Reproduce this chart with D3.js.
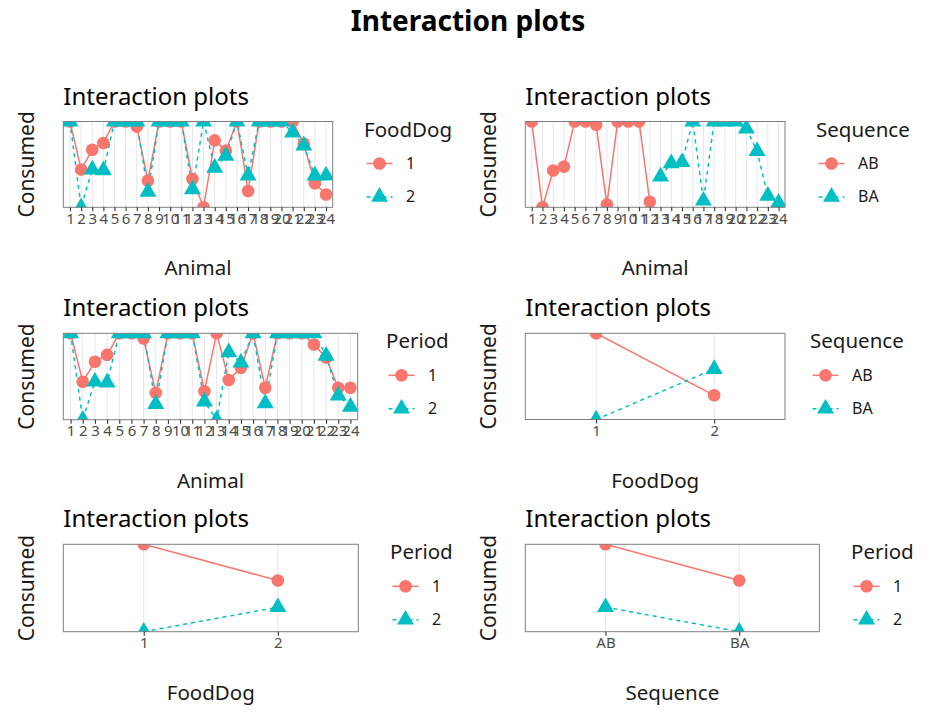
<!DOCTYPE html>
<html>
<head>
<meta charset="utf-8">
<script src="https://cdn.jsdelivr.net/npm/d3@7"></script>
<style>
  body { margin: 0; background: #fff; }
  svg text { font-family: "Noto Sans", "Open Sans", sans-serif; }
</style>
</head>
<body>
<div id="chart"></div>
<script>
// crossover study: 24 animals, two periods, sequence AB or BA
const animals = ["1","2","3","4","5","6","7","8","9","10","11","12",
                 "13","14","15","16","17","18","19","20","21","22","23","24"];
const sequenceOf = ["AB","AB","AB","AB","AB","AB","AB","AB","AB","AB","AB","AB",
                    "BA","BA","BA","BA","BA","BA","BA","BA","BA","BA","BA","BA"];
const consumedPeriod1 = [100,44,67,75,100,100,94,31,100,100,100,33,
                         100,46,60,100,37,100,100,100,87,72,37,37];
const consumedPeriod2 = [100,0,44,43,100,100,100,18,100,100,100,21,
                         0,78,66,100,19,100,100,100,100,74,28,15];

const foodLevels = ["1","2"];
const periodLevels = ["1","2"];
const sequenceLevels = ["AB","BA"];
// food given in period 1 / period 2 for each sequence
const foodBySequence = { AB: ["1","2"], BA: ["2","1"] };

const seriesColors = ["#F8766D", "#00BFC4"];
const seriesDash = [null, "4,4"];

const levelsOf = {
  Animal: animals,
  FoodDog: foodLevels,
  Period: periodLevels,
  Sequence: sequenceLevels
};

// long table, one row per animal and period
const rows = [];
animals.forEach((a, i) => {
  const seq = sequenceOf[i];
  rows.push({ Animal: a, Sequence: seq, Period: "1", FoodDog: foodBySequence[seq][0], Consumed: consumedPeriod1[i] });
  rows.push({ Animal: a, Sequence: seq, Period: "2", FoodDog: foodBySequence[seq][1], Consumed: consumedPeriod2[i] });
});

const width = 936, height = 713;

const svg = d3.select("#chart").append("svg")
  .attr("width", width)
  .attr("height", height);

svg.append("text")
  .attr("x", width / 2)
  .attr("y", 31)
  .attr("text-anchor", "middle")
  .attr("font-size", 28)
  .attr("font-weight", "bold")
  .attr("fill", "#000")
  .text("Interaction plots");

// panel boxes: [left, top, right, bottom], plus legend x and y-title x
const panels = [
  { x: "Animal",   trace: "FoodDog",  box: [63.3, 121.5, 332.7, 207.3], legendX: 364, yTitleX: 34 },
  { x: "Animal",   trace: "Sequence", box: [525.3, 121.5, 785, 207.3],  legendX: 816, yTitleX: 496 },
  { x: "Animal",   trace: "Period",   box: [63.3, 333.3, 357.7, 419.7], legendX: 386, yTitleX: 34 },
  { x: "FoodDog",  trace: "Sequence", box: [525.3, 333.3, 785, 419.5],  legendX: 810, yTitleX: 496 },
  { x: "FoodDog",  trace: "Period",   box: [63.3, 544.3, 358.3, 631.7], legendX: 390, yTitleX: 34 },
  { x: "Sequence", trace: "Period",   box: [525.3, 544.3, 819.4, 631.7], legendX: 851, yTitleX: 496 }
];

function trianglePath(s) {
  return `M0,${-1.555 * s}L${1.347 * s},${0.778 * s}L${-1.347 * s},${0.778 * s}Z`;
}

function drawMarker(g, k, color) {
  if (k === 0) {
    g.append("circle").attr("r", 6.3).attr("fill", color);
  } else {
    g.append("path").attr("d", trianglePath(6.3)).attr("fill", color);
  }
}

panels.forEach((p, idx) => {
  const [x0, y0, x1, y1] = p.box;
  const g = svg.append("g");

  const means = d3.rollup(rows, v => d3.mean(v, d => d.Consumed), d => d[p.trace], d => d[p.x]);
  const traceLevels = levelsOf[p.trace];
  const xLevels = levelsOf[p.x];

  const series = traceLevels.map(t => {
    const m = means.get(t) || new Map();
    return xLevels.filter(xl => m.has(xl)).map(xl => ({ x: xl, y: m.get(xl) }));
  });

  const allY = series.flat().map(d => d.y);

  const x = d3.scalePoint().domain(xLevels).range([x0, x1]).padding(0.6);
  const y = d3.scaleLinear().domain(d3.extent(allY)).range([y1, y0]);

  const clipId = "clip" + idx;
  g.append("clipPath").attr("id", clipId)
    .append("rect")
    .attr("x", x0).attr("y", y0)
    .attr("width", x1 - x0).attr("height", y1 - y0);

  // vertical grid
  g.append("g").selectAll("line")
    .data(xLevels)
    .join("line")
    .attr("x1", d => x(d)).attr("x2", d => x(d))
    .attr("y1", y0).attr("y2", y1)
    .attr("stroke", "#e6e6e6")
    .attr("stroke-width", 1);

  const plot = g.append("g").attr("clip-path", `url(#${clipId})`);

  const line = d3.line().x(d => x(d.x)).y(d => y(d.y));

  series.forEach((s, k) => {
    plot.append("path")
      .datum(s)
      .attr("d", line)
      .attr("fill", "none")
      .attr("stroke", seriesColors[k])
      .attr("stroke-width", 1.5)
      .attr("stroke-dasharray", seriesDash[k]);
  });

  series.forEach((s, k) => {
    s.forEach(d => {
      const m = plot.append("g").attr("transform", `translate(${x(d.x)},${y(d.y)})`);
      drawMarker(m, k, seriesColors[k]);
    });
  });

  g.append("rect")
    .attr("x", x0).attr("y", y0)
    .attr("width", x1 - x0).attr("height", y1 - y0)
    .attr("fill", "none")
    .attr("stroke", "#7f7f7f")
    .attr("stroke-width", 1);

  // x axis
  const ax = g.append("g")
    .attr("transform", `translate(0,${y1})`)
    .call(d3.axisBottom(x).tickSize(4).tickPadding(2));
  ax.select(".domain").remove();
  ax.selectAll(".tick line").attr("stroke", "#333").attr("stroke-width", 1.1);
  ax.selectAll(".tick text")
    .attr("fill", "#4d4d4d")
    .attr("font-size", 15)
    .attr("font-family", "Noto Sans");

  // titles
  g.append("text")
    .attr("x", x0)
    .attr("y", y0 - 17)
    .attr("font-size", 24)
    .attr("fill", "#000")
    .text("Interaction plots");

  g.append("text")
    .attr("x", (x0 + x1) / 2)
    .attr("y", y1 + 68)
    .attr("text-anchor", "middle")
    .attr("font-size", 20.5)
    .attr("fill", "#1a1a1a")
    .text(p.x);

  g.append("text")
    .attr("transform", `translate(${p.yTitleX},${(y0 + y1) / 2}) rotate(-90)`)
    .attr("text-anchor", "middle")
    .attr("font-size", 21)
    .attr("fill", "#1a1a1a")
    .text("Consumed");

  // legend
  const lg = g.append("g").attr("transform", `translate(${p.legendX},${y0})`);
  lg.append("text")
    .attr("x", 0)
    .attr("y", 15)
    .attr("font-size", 20.5)
    .attr("fill", "#1a1a1a")
    .text(p.trace);

  traceLevels.forEach((t, k) => {
    const cy = 42 + k * 33.4;
    const key = lg.append("g").attr("transform", `translate(0,${cy})`);
    key.append("line")
      .attr("x1", 2.5).attr("x2", 28.5)
      .attr("stroke", seriesColors[k])
      .attr("stroke-width", 1.5)
      .attr("stroke-dasharray", seriesDash[k]);
    const mk = key.append("g").attr("transform", "translate(15.5,0)");
    drawMarker(mk, k, seriesColors[k]);
    key.append("text")
      .attr("x", 42)
      .attr("y", 5.5)
      .attr("font-size", 16)
      .attr("fill", "#1a1a1a")
      .text(t);
  });
});
</script>
</body>
</html>
